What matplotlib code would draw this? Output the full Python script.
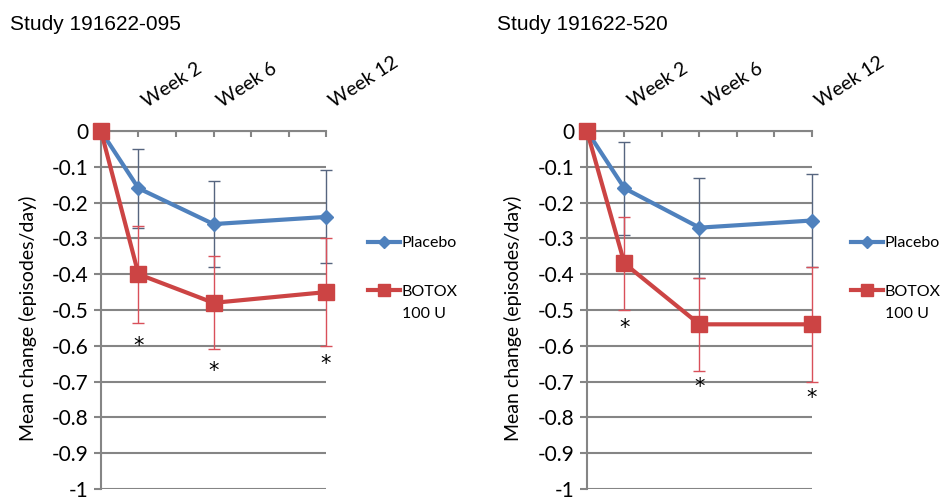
import matplotlib
matplotlib.use('Agg')
import matplotlib.pyplot as plt
from matplotlib.transforms import ScaledTranslation

# Data (mean change in episodes/day, weeks 0/2/6/12)
weeks = [0, 2, 6, 12]
tick_weeks = [0, 2, 4, 6, 8, 10, 12]
tick_labels = ["", "Week 2", "", "Week 6", "", "", "Week 12"]
star_weeks = [2, 6, 12]

titles = ["Study 191622-095", "Study 191622-520"]

placebo_095 = [0, -0.16, -0.26, -0.24]
placebo_err_095 = [0, 0.11, 0.12, 0.13]
botox_095 = [0, -0.40, -0.48, -0.45]
botox_err_095 = [0, 0.135, 0.13, 0.15]
stars_095 = [-0.60, -0.67, -0.65]

placebo_520 = [0, -0.16, -0.27, -0.25]
placebo_err_520 = [0, 0.13, 0.14, 0.13]
botox_520 = [0, -0.37, -0.54, -0.54]
botox_err_520 = [0, 0.13, 0.13, 0.16]
stars_520 = [-0.55, -0.715, -0.745]

y_ticks = [0, -0.1, -0.2, -0.3, -0.4, -0.5, -0.6, -0.7, -0.8, -0.9, -1]
y_tick_labels = ["0", "-0.1", "-0.2", "-0.3", "-0.4", "-0.5", "-0.6", "-0.7", "-0.8", "-0.9", "-1"]

BLUE = "#4F81BD"
RED = "#CC4444"
GRID = "#858585"

fig = plt.figure(figsize=(9.42, 5.0), dpi=100)

panels = [
    (0.1072, titles[0], placebo_095, placebo_err_095, botox_095, botox_err_095, stars_095, 10, 368, 28),
    (0.6231, titles[1], placebo_520, placebo_err_520, botox_520, botox_err_520, stars_520, 497, 851, 513),
]

for left, title, pl, pl_err, bo, bo_err, stars, title_x, leg_x, ylab_x in panels:
    ax = fig.add_axes([left, 1 - 489 / 500, 0.2389, 358 / 500])
    ax.set_xlim(0, 12)
    ax.set_ylim(-1, 0)

    # error bars first, lines on top
    ax.errorbar(weeks[1:], pl[1:], yerr=pl_err[1:], fmt="none", ecolor="#56657f",
                elinewidth=1, capsize=4, capthick=1, zorder=2, clip_on=False)
    ax.errorbar(weeks[1:], bo[1:], yerr=bo_err[1:], fmt="none", ecolor="#D9505A",
                elinewidth=1, capsize=4, capthick=1, zorder=2, clip_on=False)
    ax.plot(weeks, pl, color=BLUE, lw=3, marker="D", ms=7, label="Placebo",
            zorder=3, clip_on=False)
    ax.plot(weeks, bo, color=RED, lw=3, marker="s", ms=11, label="BOTOX",
            zorder=4, clip_on=False)

    for wk, s in zip(star_weeks, stars):
        ax.text(wk, s, "*", fontsize=15, ha="center", va="center", color="black")

    # axes styling
    ax.set_yticks(y_ticks)
    ax.set_yticklabels(y_tick_labels, fontsize=15, family="Lato")
    ax.yaxis.grid(True, color=GRID, lw=1.5)
    ax.set_axisbelow(True)
    ax.tick_params(axis="y", direction="out", length=5, width=1.5, color=GRID, pad=4)

    ax.set_xticks(tick_weeks)
    ax.tick_params(axis="x", direction="in", length=4, width=1.5, color=GRID,
                   top=True, labeltop=True, bottom=False, labelbottom=False, pad=15)
    ax.set_xticklabels(tick_labels, fontsize=14, family="Lato",
                       rotation=33, ha="left", va="bottom", rotation_mode="anchor")
    shift = ScaledTranslation(7 / 72, 0, fig.dpi_scale_trans)
    for lab in ax.get_xticklabels():
        lab.set_transform(lab.get_transform() + shift)

    for side in ["right", "bottom"]:
        ax.spines[side].set_visible(False)
    for side in ["left", "top"]:
        ax.spines[side].set_color(GRID)
        ax.spines[side].set_linewidth(1.5)

    fig.text(title_x / 942, 1 - 25 / 500, title, fontsize=15, family="Liberation Sans",
             ha="left", va="center")
    fig.text(ylab_x / 942, 1 - 318 / 500, "Mean change (episodes/day)", fontsize=14,
             family="Lato", rotation=90, ha="center", va="center")

    ax.legend(loc="upper left", bbox_to_anchor=(leg_x / 942, 1 - 236 / 500),
              bbox_transform=fig.transFigure, frameon=False, handlelength=2.0,
              handletextpad=0.1, borderpad=0, borderaxespad=0, labelspacing=2.15,
              prop={"family": "Lato", "size": 11.5}, markerscale=0.85)
    fig.text((leg_x + 34) / 942, 1 - 314 / 500, "100 U", fontsize=11.5, family="Lato",
             ha="left", va="center")

fig.savefig("out.png", dpi=100)
